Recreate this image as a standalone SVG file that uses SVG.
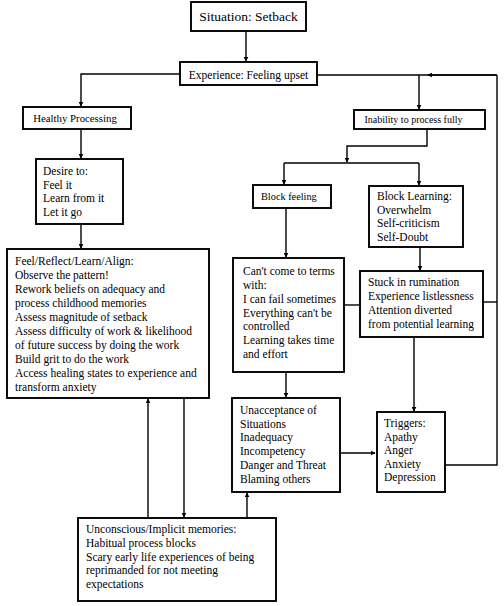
<svg xmlns="http://www.w3.org/2000/svg" width="504" height="606" viewBox="0 0 504 606">
<style>
rect{fill:#fff;stroke:#000;stroke-width:1.9}
text{font-family:"Liberation Serif","Times New Roman",serif;font-size:11.5px;fill:#000}
.c{fill:none;stroke:#000;stroke-width:1.4}
</style>
<defs>
<marker id="a" viewBox="0 0 8 8" refX="7" refY="4" markerWidth="5" markerHeight="5" orient="auto" markerUnits="userSpaceOnUse"><path d="M0,0L8,4L0,8z" fill="#000"/></marker>
</defs>
<rect width="504" height="606" style="stroke:none"/>
<g id="connectors">
<path class="c" d="M246,31V61" marker-end="url(#a)"/>
<path class="c" d="M180,74H81V106" marker-end="url(#a)"/>
<path class="c" d="M317,75H497"/>
<path class="c" d="M497,75H428" marker-end="url(#a)"/>
<path class="c" d="M419,75V109" marker-end="url(#a)"/>
<path class="c" d="M81,129V158" marker-end="url(#a)"/>
<path class="c" d="M81,224V248" marker-end="url(#a)"/>
<path class="c" d="M427,129V146H347V162" marker-end="url(#a)"/>
<path class="c" d="M284,163H419"/>
<path class="c" d="M284,163V184" marker-end="url(#a)"/>
<path class="c" d="M419,163V185" marker-end="url(#a)"/>
<path class="c" d="M286,208V257" marker-end="url(#a)"/>
<path class="c" d="M420,247V270" marker-end="url(#a)"/>
<path class="c" d="M344,305H360"/>
<path class="c" d="M483,302H497"/>
<path class="c" d="M445,465H497V75"/>
<path class="c" d="M414,337V411" marker-end="url(#a)"/>
<path class="c" d="M286,372V397" marker-end="url(#a)"/>
<path class="c" d="M340,453H375" marker-end="url(#a)"/>
<path class="c" d="M148,518V399" marker-end="url(#a)"/>
<path class="c" d="M184,398V517" marker-end="url(#a)"/>
<path class="c" d="M247,518V493" marker-end="url(#a)"/>
<path class="c" d="M57,335V346" style="stroke-width:0.8"/>
</g>
<g id="situation"><rect x="191" y="2" width="115" height="29"/><text x="248.5" y="21" text-anchor="middle" style="font-size:13.5px">Situation: Setback</text></g>
<g id="experience"><rect x="180" y="62" width="137" height="23"/><text x="248.5" y="79" text-anchor="middle">Experience: Feeling upset</text></g>
<g id="healthy"><rect x="23" y="107" width="108" height="22"/><text x="75" y="122" text-anchor="middle" style="font-size:10.8px">Healthy Processing</text></g>
<g id="inability"><rect x="354" y="110" width="131" height="19"/><text x="413.5" y="123" text-anchor="middle" style="font-size:10px">Inability to process fully</text></g>
<g id="desire"><rect x="36" y="159" width="87" height="65"/><text x="43" y="175">Desire to:</text><text x="43" y="188.5">Feel it</text><text x="43" y="202">Learn from it</text><text x="43" y="215.5">Let it go</text></g>
<g id="feel"><rect x="7" y="249" width="202" height="149"/>
<text x="15" y="265">Feel/Reflect/Learn/Align:</text>
<text x="15" y="279">Observe the pattern!</text>
<text x="15" y="293">Rework beliefs on adequacy and</text>
<text x="15" y="307">process childhood memories</text>
<text x="15" y="321">Assess magnitude of setback</text>
<text x="15" y="335">Assess difficulty of work &amp; likelihood</text>
<text x="15" y="349">of future success by doing the work</text>
<text x="15" y="363">Build grit to do the work</text>
<text x="15" y="377">Access healing states to experience and</text>
<text x="15" y="391">transform anxiety</text></g>
<g id="blockfeeling"><rect x="253" y="185" width="78" height="23"/><text x="261" y="200" style="font-size:10.3px">Block feeling</text></g>
<g id="blocklearning"><rect x="369" y="186" width="94" height="61"/><text x="377" y="200">Block Learning:</text><text x="377" y="213.7">Overwhelm</text><text x="377" y="227.4">Self-criticism</text><text x="377" y="241">Self-Doubt</text></g>
<g id="cantcome"><rect x="233" y="258" width="111" height="114"/>
<text x="243" y="275">Can't come to terms</text>
<text x="243" y="289">with:</text>
<text x="243" y="302.5">I can fail sometimes</text>
<text x="243" y="316.5">Everything can't be</text>
<text x="243" y="330">controlled</text>
<text x="243" y="344">Learning takes time</text>
<text x="243" y="358">and effort</text></g>
<g id="stuck"><rect x="360" y="271" width="123" height="66"/>
<text x="368" y="286">Stuck in rumination</text>
<text x="368" y="300">Experience listlessness</text>
<text x="368" y="314">Attention diverted</text>
<text x="368" y="328">from potential learning</text></g>
<g id="unacceptance"><rect x="232" y="398" width="108" height="94"/>
<text x="240" y="414">Unacceptance of</text>
<text x="240" y="427.5">Situations</text>
<text x="240" y="441">Inadequacy</text>
<text x="240" y="455">Incompetency</text>
<text x="240" y="469">Danger and Threat</text>
<text x="240" y="482.5">Blaming others</text></g>
<g id="triggers"><rect x="377" y="412" width="68" height="80"/>
<text x="384" y="427">Triggers:</text>
<text x="384" y="440.5">Apathy</text>
<text x="384" y="454">Anger</text>
<text x="384" y="467.5">Anxiety</text>
<text x="384" y="481">Depression</text></g>
<g id="unconscious"><rect x="78" y="518" width="198" height="83"/>
<text x="86" y="533">Unconscious/Implicit memories:</text>
<text x="86" y="547">Habitual process blocks</text>
<text x="86" y="560.5">Scary early life experiences of being</text>
<text x="86" y="574">reprimanded for not meeting</text>
<text x="86" y="588">expectations</text></g>
</svg>
